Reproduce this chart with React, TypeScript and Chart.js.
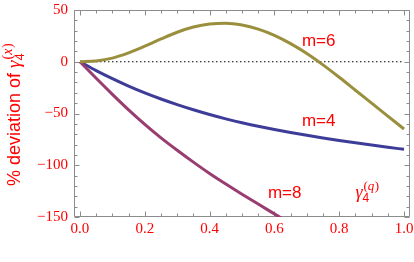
import React, { useEffect, useRef } from "react";
import { Chart, registerables } from "chart.js";

Chart.register(...registerables);

// ---- data ----
const xs = [0, 0.05, 0.1, 0.15, 0.2, 0.25, 0.3, 0.35, 0.4, 0.45, 0.5, 0.55, 0.6, 0.65, 0.7, 0.75, 0.8, 0.85, 0.9, 0.95, 1.0];
const m4Values = [0, -8.5, -16.3, -23.5, -30.1, -36, -41.4, -46.4, -51, -55.2, -59, -62.4, -65.5, -68.4, -71.1, -73.6, -76, -78.3, -80.5, -82.6, -84.6];
const m6Values = [0, 0.8, 3.5, 8.5, 15, 22, 28.5, 33.5, 36.5, 37.3, 35.5, 31.5, 25.5, 17.5, 8, -3, -15, -27.5, -40, -52.5, -65];
const m8Values = [0, -16, -31.5, -46.5, -60.5, -73.5, -85.5, -97, -108, -118.2, -128, -137.5, -147, -156.5];
const zeroXs = [0, 1];
const zeroValues = [0, 0];

const xTickValues = [0, 0.2, 0.4, 0.6, 0.8, 1.0];
const xTickLabels = ["0.0", "0.2", "0.4", "0.6", "0.8", "1.0"];
const yTickValues = [-150, -100, -50, 0, 50];
const yTickLabels = ["\u2212150", "\u2212100", "\u221250", "0", "50"];
const xMinorTicks = [0.05, 0.1, 0.15, 0.25, 0.3, 0.35, 0.45, 0.5, 0.55, 0.65, 0.7, 0.75, 0.85, 0.9, 0.95];
const yMinorTicks = [-140, -130, -120, -110, -90, -80, -70, -60, -40, -30, -20, -10, 10, 20, 30, 40];

const seriesNames = ["m=6", "m=4", "m=8"];

const RED = "#ff0000";
const FRAME = "#8c8c8c";

const toPoints = (x: number[], y: number[]) => y.map((v, i) => ({ x: x[i], y: v }));

const framePlugin = {
  id: "mmaFrame",
  beforeDatasetsDraw(chart: any) {
    const { ctx, chartArea: a, scales } = chart;
    const sx = scales.x;
    const sy = scales.y;
    ctx.save();
    ctx.strokeStyle = FRAME;
    ctx.lineWidth = 1;
    const L = a.left + 0.5, R = a.right - 0.5, T = a.top + 0.5, B = a.bottom - 0.5;
    ctx.beginPath();
    ctx.rect(L, T, R - L, B - T);
    ctx.stroke();
    const major = 5, minor = 3;
    ctx.beginPath();
    const xt = (v: number, len: number) => {
      const p = Math.round(sx.getPixelForValue(v)) + 0.5;
      ctx.moveTo(p, B); ctx.lineTo(p, B - len);
      ctx.moveTo(p, T); ctx.lineTo(p, T + len);
    };
    const yt = (v: number, len: number) => {
      const p = Math.round(sy.getPixelForValue(v)) + 0.5;
      ctx.moveTo(L, p); ctx.lineTo(L + len, p);
      ctx.moveTo(R, p); ctx.lineTo(R - len, p);
    };
    xTickValues.forEach((v) => xt(v, major));
    xMinorTicks.forEach((v) => xt(v, minor));
    yTickValues.forEach((v) => yt(v, major));
    yMinorTicks.forEach((v) => yt(v, minor));
    ctx.stroke();
    ctx.restore();
  },
  afterDraw(chart: any) {
    const { ctx, scales } = chart;
    const sx = scales.x;
    const sy = scales.y;
    ctx.save();
    ctx.fillStyle = RED;
    ctx.textBaseline = "alphabetic";
    ctx.textAlign = "left";
    // series annotations
    const notes = [
      { t: seriesNames[0], x: 0.685, y: 15.5 },
      { t: seriesNames[1], x: 0.685, y: -62 },
      { t: seriesNames[2], x: 0.58, y: -131.5 },
    ];
    ctx.font = "17px 'Liberation Sans'";
    notes.forEach((n) => ctx.fillText(n.t, sx.getPixelForValue(n.x), sy.getPixelForValue(n.y)));
    // gamma_4^(q) axis note
    let gx = sx.getPixelForValue(0.85);
    const gy = sy.getPixelForValue(-132);
    ctx.font = "italic 18px 'Liberation Serif'";
    ctx.fillText("\u03b3", gx, gy);
    gx += ctx.measureText("\u03b3").width;
    ctx.font = "12px 'Liberation Sans'";
    ctx.fillText("4", gx, gy + 4);
    ctx.font = "13px 'Liberation Serif'";
    let px = gx + 1;
    const py = gy - 8;
    ctx.fillText("(", px, py); px += ctx.measureText("(").width;
    ctx.font = "italic 13px 'Liberation Serif'";
    ctx.fillText("q", px, py); px += ctx.measureText("q").width;
    ctx.font = "13px 'Liberation Serif'";
    ctx.fillText(")", px + 0.5, py);

    // y-axis title, rotated
    ctx.translate(20, 186);
    ctx.rotate(-Math.PI / 2);
    let tx = 0;
    ctx.font = "18px 'Liberation Sans'";
    const main = "% deviation of ";
    ctx.fillText(main, tx, 0);
    tx += ctx.measureText(main).width;
    ctx.font = "italic 19px 'Liberation Serif'";
    ctx.fillText("\u03b3", tx, 0);
    tx += ctx.measureText("\u03b3").width;
    ctx.font = "13px 'Liberation Sans'";
    ctx.fillText("4", tx, 4);
    ctx.font = "14px 'Liberation Serif'";
    let ux = tx + 1;
    ctx.fillText("(", ux, -8); ux += ctx.measureText("(").width;
    ctx.font = "italic 14px 'Liberation Serif'";
    ctx.fillText("x", ux, -8); ux += ctx.measureText("x").width;
    ctx.font = "14px 'Liberation Serif'";
    ctx.fillText(")", ux + 0.5, -8);
    ctx.restore();
  },
};

export default function App() {
  const ref = useRef<HTMLCanvasElement | null>(null);
  useEffect(() => {
    document.body.style.margin = "0";
    const canvas = ref.current;
    if (!canvas) return;
    const line = (label: string, x: number[], y: number[], color: string, order: number) => ({
      label,
      data: toPoints(x, y),
      borderColor: color,
      borderWidth: 3,
      pointRadius: 0,
      cubicInterpolationMode: "monotone",
      fill: false,
      clip: 0,
      order,
    });
    const chart = new Chart(canvas, {
      type: "line",
      data: {
        datasets: [
          {
            label: "zero",
            data: toPoints(zeroXs, zeroValues),
            borderColor: "#000000",
            borderWidth: 1,
            borderDash: [1.5, 2.5],
            pointRadius: 0,
            fill: false,
            order: 4,
          },
          line(seriesNames[1], xs, m4Values, "#3d3d99", 3),
          line(seriesNames[2], xs, m8Values, "#993d71", 2),
          line(seriesNames[0], xs, m6Values, "#998f3d", 1),
        ],
      },
      options: {
        animation: false,
        responsive: false,
        maintainAspectRatio: false,
        parsing: false,
        layout: { padding: { top: 10, right: 4, left: 0, bottom: 0 } },
        plugins: { legend: { display: false }, tooltip: { enabled: false }, title: { display: false } },
        scales: {
          x: {
            type: "linear",
            min: -0.0185,
            max: 1.0185,
            afterBuildTicks: (s: any) => {
              s.ticks = xTickValues.map((v) => ({ value: v }));
            },
            afterFit: (s: any) => {
              s.height = 45;
              s.paddingLeft = 0;
              s.paddingRight = 0;
            },
            grid: { display: false, drawTicks: false },
            border: { display: false },
            ticks: {
              color: RED,
              font: { family: "'Liberation Serif'", size: 15 },
              padding: 3,
              maxRotation: 0,
              autoSkip: false,
              callback: (_v: any, i: number) => xTickLabels[i],
            },
          },
          y: {
            type: "linear",
            min: -150,
            max: 50,
            afterBuildTicks: (s: any) => {
              s.ticks = yTickValues.map((v) => ({ value: v }));
            },
            afterFit: (s: any) => {
              s.width = 74;
              s.paddingTop = 0;
              s.paddingBottom = 0;
            },
            grid: { display: false, drawTicks: false },
            border: { display: false },
            ticks: {
              color: RED,
              font: { family: "'Liberation Serif'", size: 15 },
              padding: 6,
              autoSkip: false,
              callback: (_v: any, i: number) => yTickLabels[i],
            },
          },
        },
      },
      plugins: [framePlugin],
    } as any);
    return () => chart.destroy();
  }, []);
  return <canvas ref={ref} width={414} height={262} style={{ display: "block", width: 414, height: 262 }} />;
}
